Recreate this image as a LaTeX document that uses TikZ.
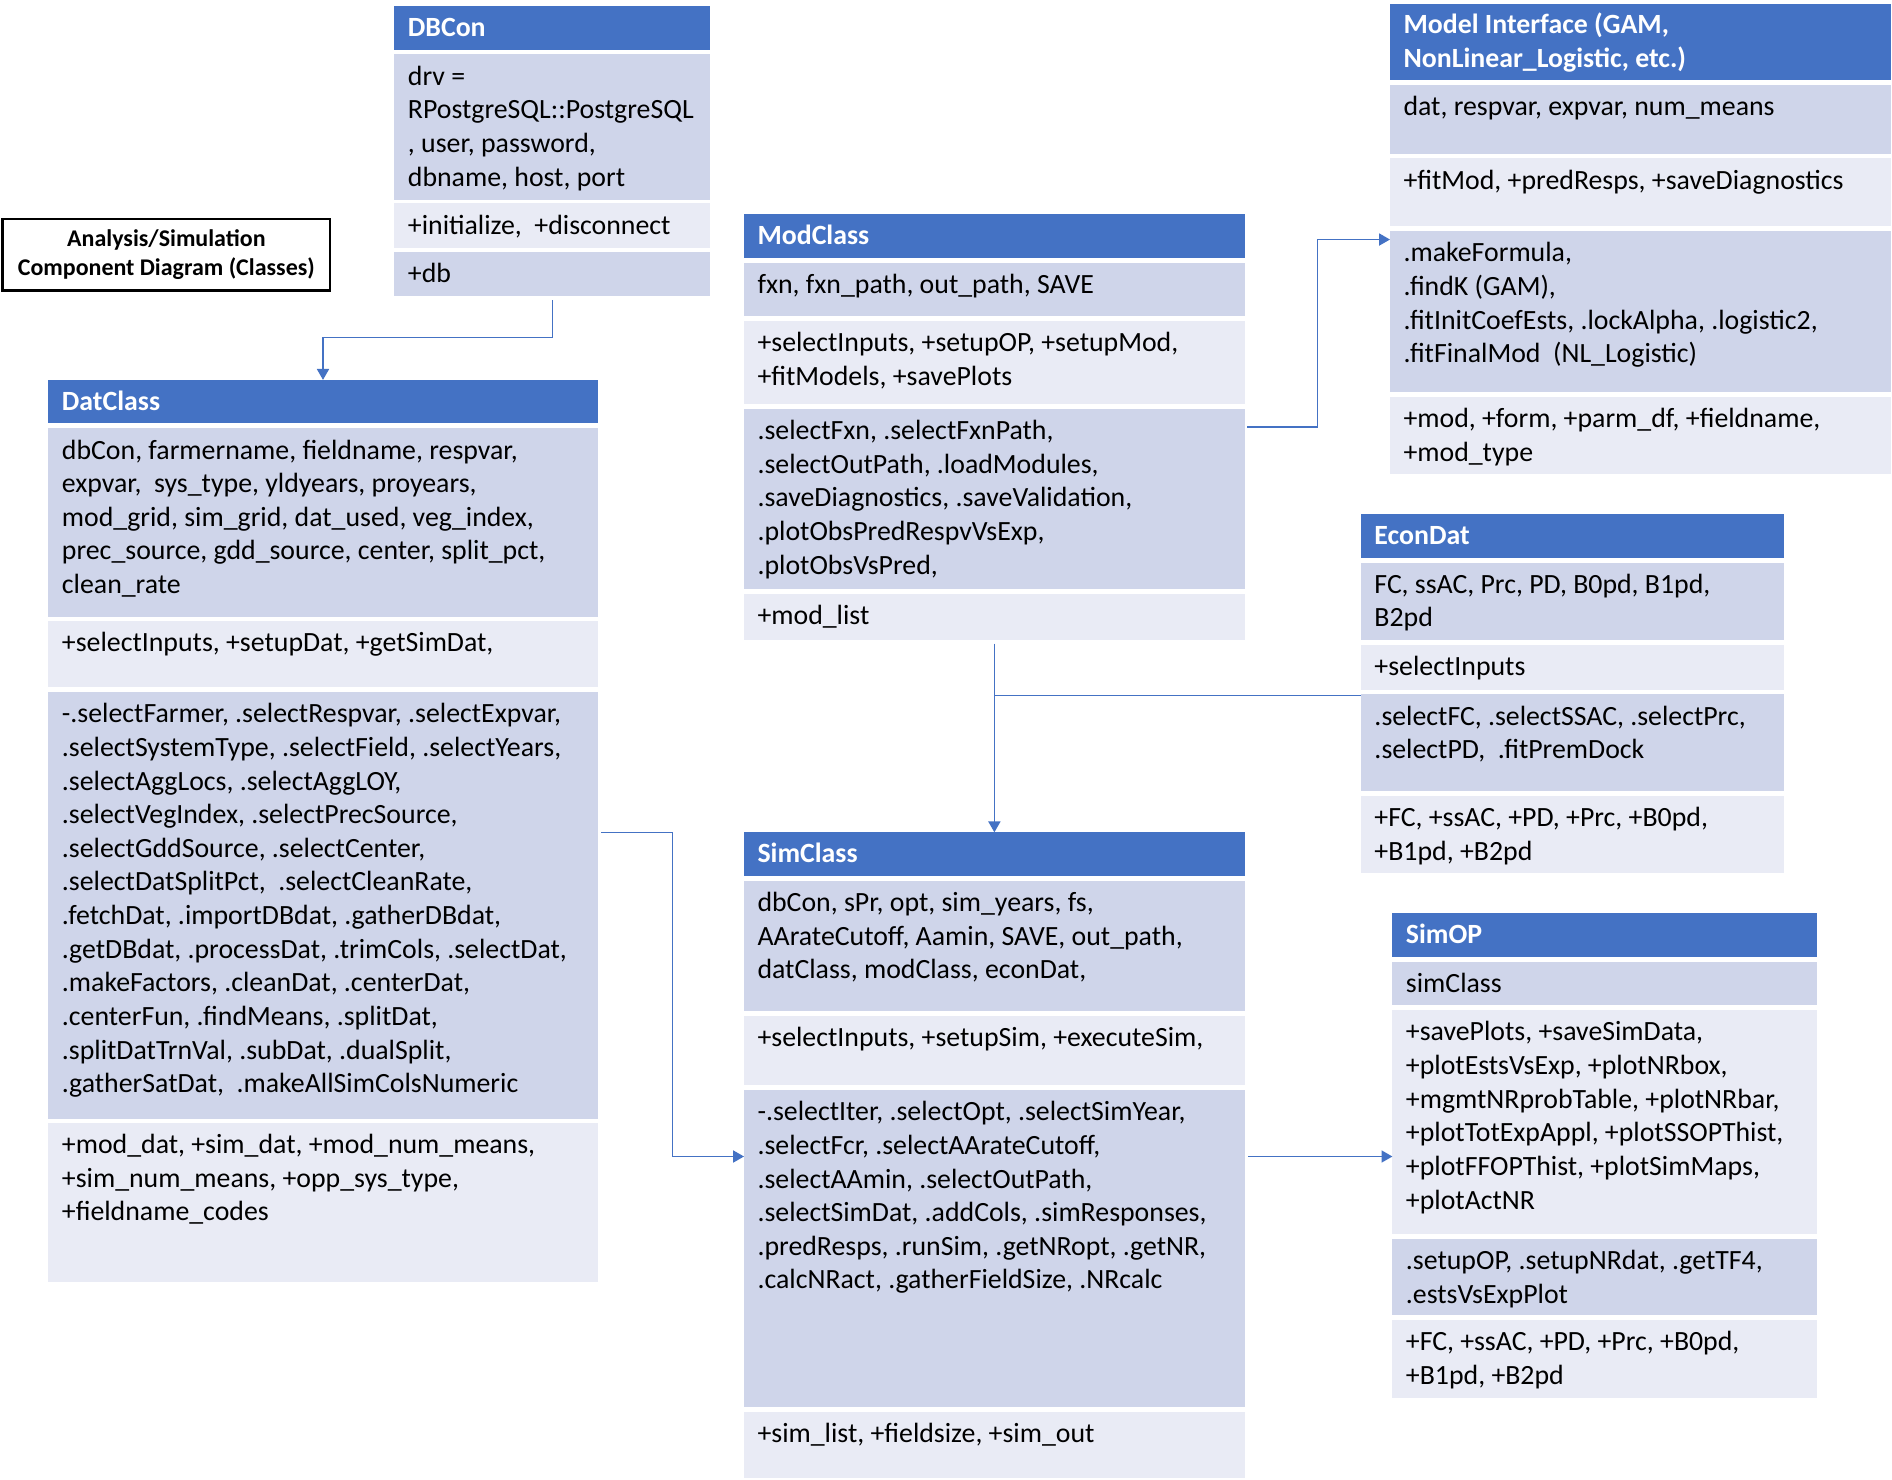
\documentclass[tikz,border=0pt]{standalone}
\usepackage{fontspec}
\setmainfont{Carlito}
\usetikzlibrary{arrows.meta,calc,fit}
\definecolor{hdr}{HTML}{4472C4}
\definecolor{bandA}{HTML}{CFD5EA}
\definecolor{bandB}{HTML}{E9EBF5}
\newcommand\umlfont{\fontsize{23}{27.8}\selectfont}
\newcommand\umlsec[7]{%
  \node[secbox, fill=#6, fit={(#2,#4) (#3,#5)}] (#1) {};
  \node[sectext] (#1-t) at (#2+11,#4+5.8) {\strut #7};}
\newcommand\umlhead[6]{%
  \node[secbox, fill=hdr, fit={(#2,#4) (#3,#5)}] (#1) {};
  \node[sectext, text=white, font=\umlfont\bfseries] (#1-t) at (#2+11,#4+5.4) {\strut #6};}
\tikzset{
  secbox/.style={inner sep=0pt, outer sep=0pt, draw=none},
  sectext/.style={anchor=north west, inner sep=0pt, align=left, font=\umlfont, text=black},
  conn/.style={draw=hdr, line width=1.2pt, -{Triangle[length=9pt,width=10pt]}},
  connl/.style={draw=hdr, line width=1.2pt},
  legend/.style={draw=black, line width=2pt, minimum width=271pt, minimum height=59pt,
    inner sep=0pt, align=center, font=\fontsize{19.8}{24.5}\selectfont\bfseries}
}
\begin{document}
\begin{tikzpicture}[x=1pt, y=-1pt]
\fill[white] (0,0) rectangle (1564,1223.4);
\useasboundingbox (0,0) rectangle (1564,1223.4);

% legend
\node[legend] (legend) at (137.5,210.5) {Analysis/Simulation\\Component Diagram (Classes)};

% DBCon
\umlhead{dbc0}{326}{587}{5}{41}{DBCon}
\umlsec{dbc1}{326}{587}{45}{165}{bandA}{drv =\\RPostgreSQL::PostgreSQL\\, user, password,\\dbname, host, port}
\umlsec{dbc2}{326}{587}{168}{205}{bandB}{+initialize,\ \ +disconnect}
\umlsec{dbc3}{326}{587}{208}{245}{bandA}{+db}

% DatClass
\umlhead{dat0}{40}{494}{314}{350}{DatClass}
\umlsec{dat1}{40}{494}{354}{510}{bandA}{dbCon, farmername, fieldname, respvar,\\expvar,\ \ sys\_type, yldyears, proyears,\\mod\_grid, sim\_grid, dat\_used, veg\_index,\\prec\_source, gdd\_source, center, split\_pct,\\clean\_rate}
\umlsec{dat2a}{40}{494}{513}{568}{bandB}{+selectInputs, +setupDat, +getSimDat,}
\umlsec{dat2}{40}{494}{572}{925}{bandA}{-.selectFarmer, .selectRespvar, .selectExpvar,\\.selectSystemType, .selectField, .selectYears,\\.selectAggLocs, .selectAggLOY,\\.selectVegIndex, .selectPrecSource,\\.selectGddSource, .selectCenter,\\.selectDatSplitPct,\ \ .selectCleanRate,\\.fetchDat, .importDBdat, .gatherDBdat,\\.getDBdat, .processDat, .trimCols, .selectDat,\\.makeFactors, .cleanDat, .centerDat,\\.centerFun, .findMeans, .splitDat,\\.splitDatTrnVal, .subDat, .dualSplit,\\.gatherSatDat,\ \ .makeAllSimColsNumeric}
\umlsec{dat3}{40}{494}{928}{1060}{bandB}{+mod\_dat, +sim\_dat, +mod\_num\_means,\\+sim\_num\_means, +opp\_sys\_type,\\+fieldname\_codes}

% ModClass
\umlhead{mod0}{615}{1029}{177}{213}{ModClass}
\umlsec{mod1}{615}{1029}{217}{261}{bandA}{fxn, fxn\_path, out\_path, SAVE}
\umlsec{mod1b}{615}{1029}{265}{334}{bandB}{+selectInputs, +setupOP, +setupMod,\\+fitModels, +savePlots}
\umlsec{mod2}{615}{1029}{338}{487}{bandA}{.selectFxn, .selectFxnPath,\\.selectOutPath, .loadModules,\\.saveDiagnostics, .saveValidation,\\.plotObsPredRespvVsExp,\\.plotObsVsPred,}
\umlsec{mod3}{615}{1029}{491}{529}{bandB}{+mod\_list}

% Model Interface
\umlhead{mi0}{1149}{1563}{3}{66}{Model Interface (GAM,\\NonLinear\_Logistic, etc.)}
\umlsec{mi1}{1149}{1563}{70}{127}{bandA}{dat, respvar, expvar, num\_means}
\umlsec{mi1b}{1149}{1563}{131}{187}{bandB}{+fitMod, +predResps, +saveDiagnostics}
\umlsec{mi2}{1149}{1563}{191}{324}{bandA}{.makeFormula,\\.findK (GAM),\\.fitInitCoefEsts, .lockAlpha, .logistic2,\\.fitFinalMod\ \ (NL\_Logistic)}
\umlsec{mi3}{1149}{1563}{328}{392}{bandB}{+mod, +form, +parm\_df, +fieldname,\\+mod\_type}

% EconDat
\umlhead{econ0}{1125}{1475}{425}{461}{EconDat}
\umlsec{econ1}{1125}{1475}{465}{529}{bandA}{FC, ssAC, Prc, PD, B0pd, B1pd,\\B2pd}
\umlsec{econ1b}{1125}{1475}{533}{570}{bandB}{+selectInputs}
\umlsec{econ2}{1125}{1475}{574}{654}{bandA}{.selectFC, .selectSSAC, .selectPrc,\\.selectPD,\ \ .fitPremDock}
\umlsec{econ3}{1125}{1475}{658}{722}{bandB}{+FC, +ssAC, +PD, +Prc, +B0pd,\\+B1pd, +B2pd}

% SimClass
\umlhead{sim0}{615}{1029}{688}{724}{SimClass}
\umlsec{sim1}{615}{1029}{728}{836}{bandA}{dbCon, sPr, opt, sim\_years, fs,\\AArateCutoff, Aamin, SAVE, out\_path,\\datClass, modClass, econDat,}
\umlsec{sim1b}{615}{1029}{840}{897}{bandB}{+selectInputs, +setupSim, +executeSim,}
\umlsec{sim2}{615}{1029}{901}{1163}{bandA}{-.selectIter, .selectOpt, .selectSimYear,\\.selectFcr, .selectAArateCutoff,\\.selectAAmin, .selectOutPath,\\.selectSimDat, .addCols, .simResponses,\\.predResps, .runSim, .getNRopt, .getNR,\\.calcNRact, .gatherFieldSize, .NRcalc}
\umlsec{sim3}{615}{1029}{1167}{1222}{bandB}{+sim\_list, +fieldsize, +sim\_out}

% SimOP
\umlhead{sop0}{1151}{1502}{755}{791}{SimOP}
\umlsec{sop1a}{1151}{1502}{795}{831}{bandA}{simClass}
\umlsec{sop1}{1151}{1502}{835}{1020}{bandB}{+savePlots, +saveSimData,\\+plotEstsVsExp, +plotNRbox,\\+mgmtNRprobTable, +plotNRbar,\\+plotTotExpAppl, +plotSSOPThist,\\+plotFFOPThist, +plotSimMaps,\\+plotActNR}
\umlsec{sop2}{1151}{1502}{1024}{1087}{bandA}{.setupOP, .setupNRdat, .getTF4,\\.estsVsExpPlot}
\umlsec{sop3}{1151}{1502}{1091}{1156}{bandB}{+FC, +ssAC, +PD, +Prc, +B0pd,\\+B1pd, +B2pd}

% connectors
\coordinate (dbcout) at ($(dbc3.south)+(0,3)$);
\draw[conn] (dbcout) -- ++(0,31) -| (dat0.north);

\coordinate (modout) at ($(mod2.north east)+(2,15)$);
\coordinate (miin) at ($(mi2.north west)+(0,7)$);
\draw[conn] (modout) -- ++(58,0) |- (miin);

\coordinate (modbot) at ($(mod3.south)+(0,3)$);
\draw[conn] (modbot) -- (sim0.north);

\coordinate (econout) at ($(econ2.north west)+(0,1)$);
\draw[connl] (econout) -- (econout -| modbot);

\coordinate (datout) at ($(dat2.north east)+(3,116)$);
\coordinate (simin) at ($(sim2.north west)+(0,55)$);
\draw[conn] (datout) -- ++(59,0) |- (simin);

\coordinate (simout) at ($(sim2.north east)+(3,55)$);
\draw[conn] (simout) -- (simout -| sop1.west);
\end{tikzpicture}
\end{document}
